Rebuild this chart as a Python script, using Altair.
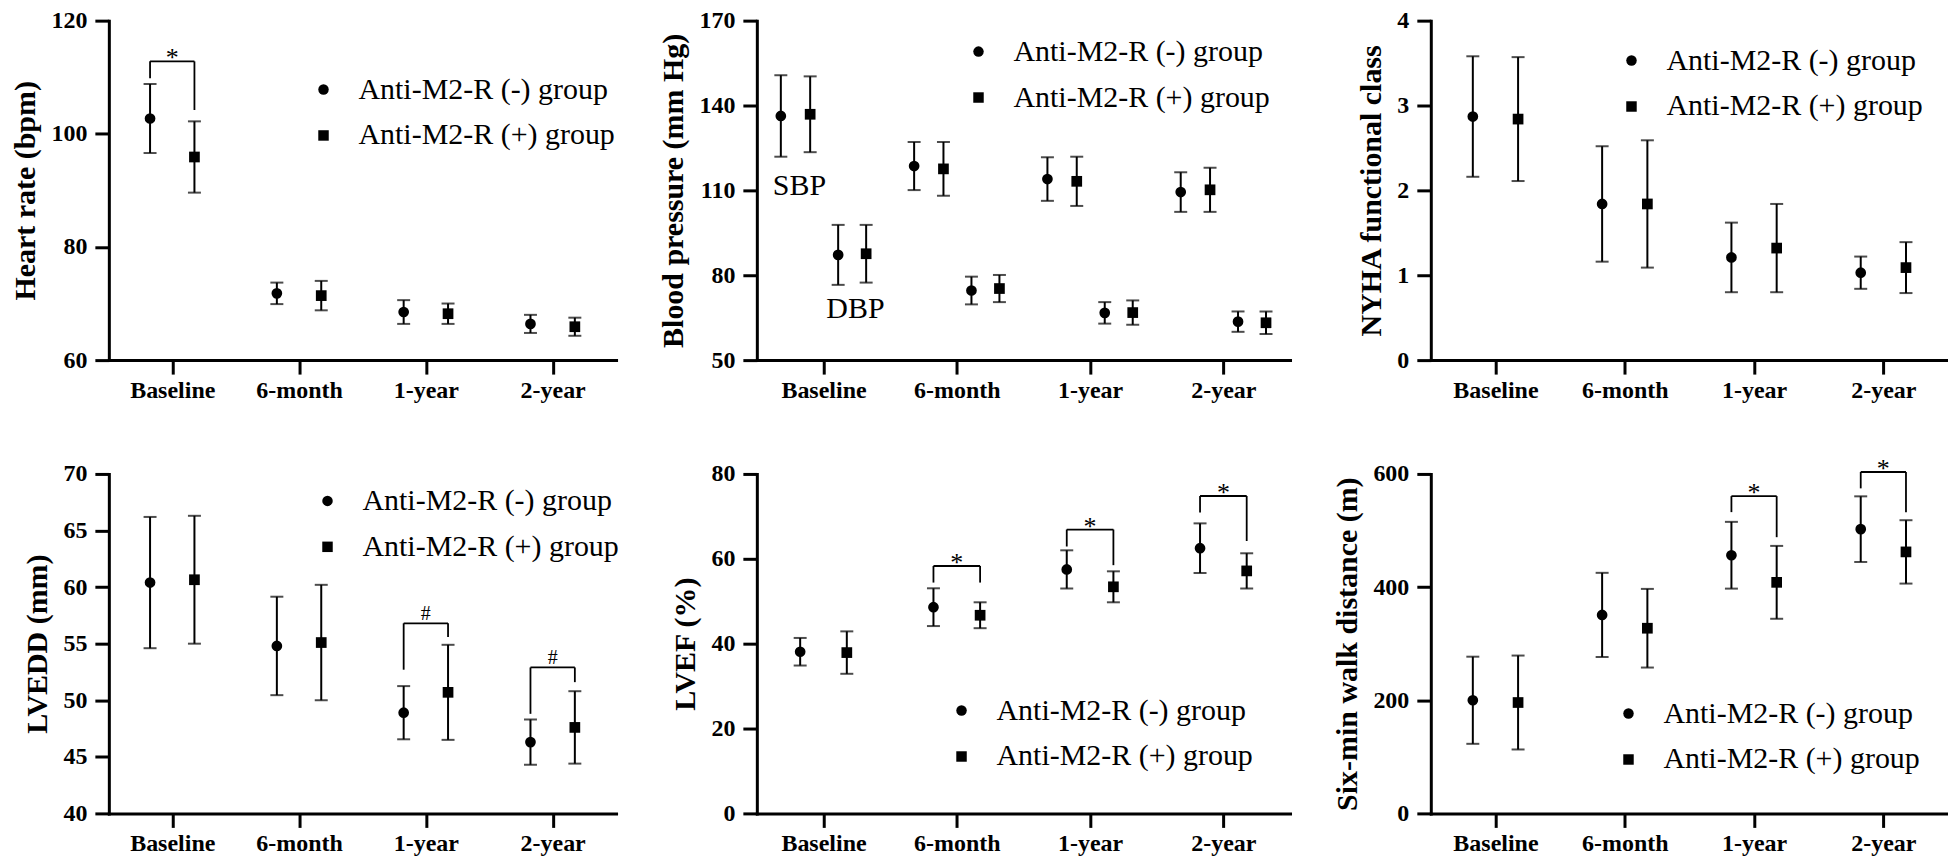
import json
import altair as alt
import pandas as pd

# ---------------- data ----------------
categories = ["Baseline", "6-month", "1-year", "2-year"]
groups = ["Anti-M2-R (-) group", "Anti-M2-R (+) group"]

# Heart rate (bpm)
hr_neg_mean = [102.7, 71.8, 68.5, 66.4]
hr_neg_sd = [6.1, 1.9, 2.1, 1.6]
hr_pos_mean = [95.9, 71.4, 68.2, 65.9]
hr_pos_sd = [6.3, 2.6, 1.8, 1.6]

# Blood pressure (mm Hg)
sbp_neg_mean = [136.3, 118.6, 114.0, 109.4]
sbp_neg_sd = [14.4, 8.5, 7.7, 7.0]
sbp_pos_mean = [136.9, 117.6, 113.2, 110.2]
sbp_pos_sd = [13.4, 9.5, 8.7, 7.8]
dbp_neg_mean = [87.2, 74.6, 66.7, 63.6]
dbp_neg_sd = [10.6, 4.9, 3.8, 3.6]
dbp_pos_mean = [87.6, 75.3, 66.8, 63.2]
dbp_pos_sd = [10.2, 4.8, 4.3, 4.0]
bp_labels = ["SBP", "DBP"]
bp_label_pos = [-0.18, 0.24]
bp_label_val = [111.7, 68.0]

# NYHA functional class
nyha_neg_mean = [2.87, 1.84, 1.21, 1.03]
nyha_neg_sd = [0.71, 0.68, 0.41, 0.19]
nyha_pos_mean = [2.84, 1.84, 1.32, 1.09]
nyha_pos_sd = [0.73, 0.75, 0.52, 0.30]

# LVEDD (mm)
lvedd_neg_mean = [60.4, 54.8, 48.9, 46.3]
lvedd_neg_sd = [5.8, 4.35, 2.35, 2.0]
lvedd_pos_mean = [60.65, 55.1, 50.7, 47.6]
lvedd_pos_sd = [5.65, 5.1, 4.2, 3.2]

# LVEF (%)
lvef_neg_mean = [38.1, 48.6, 57.5, 62.5]
lvef_neg_sd = [3.25, 4.45, 4.5, 5.85]
lvef_pos_mean = [37.9, 46.7, 53.4, 57.15]
lvef_pos_sd = [5.0, 3.05, 3.65, 4.15]

# Six-min walk distance (m)
smwd_neg_mean = [200.0, 350.8, 456.3, 502.4]
smwd_neg_sd = [77.0, 74.4, 59.0, 58.0]
smwd_pos_mean = [196.0, 327.3, 408.4, 462.2]
smwd_pos_sd = [83.0, 69.5, 64.4, 56.0]

# significance brackets: category index, bracket level, left/right leg ends
hr_br_idx = [0]
hr_br_y = [112.8]
hr_br_left = [109.8]
hr_br_right = [104.2]

lvedd_br_idx = [2, 3]
lvedd_br_y = [56.8, 52.9]
lvedd_br_left = [52.7, 48.8]
lvedd_br_right = [55.6, 51.6]

lvef_br_idx = [1, 2, 3]
lvef_br_y = [58.3, 66.9, 74.8]
lvef_br_left = [54.4, 62.9, 70.9]
lvef_br_right = [54.4, 58.5, 64.2]

smwd_br_idx = [2, 3]
smwd_br_y = [560.8, 603.4]
smwd_br_left = [532.5, 574.5]
smwd_br_right = [488.2, 532.5]

# ---------------- styling ----------------
FONT = "Liberation Serif"
OFF = 0.175
H = 340
LABEL_EXPR = json.dumps(categories) + "[datum.value]"


def series_df(series):
    rows = []
    for g, means, sds, off in series:
        for i, (m, s) in enumerate(zip(means, sds)):
            rows.append(dict(group=g, cat=categories[i], x=i + off,
                             mean=m, lo=m - s, hi=m + s))
    return pd.DataFrame(rows)


def bracket_df(idx, ys, left, right, sym):
    return pd.DataFrame(dict(xm=idx, x1=[i - OFF for i in idx], x2=[i + OFF for i in idx],
                             y=ys, lb=left, rb=right, sym=[sym] * len(idx)))


def panel(df, ytitle, ydomain, ystep, width, leg_x, leg_y,
          br=None, sym_dy=0, sym_size=26, extra=None):
    xsc = alt.Scale(domain=[-0.5, 3.5], nice=False, zero=False)
    xax = alt.Axis(values=[0, 1, 2, 3], labelExpr=LABEL_EXPR, title=None,
                   labelPadding=4)
    ysc = alt.Scale(domain=ydomain, nice=False, zero=False)
    vals = []
    v = ydomain[0]
    while v <= ydomain[1] + 1e-9:
        vals.append(v)
        v += ystep
    yax = alt.Axis(values=vals, title=ytitle, labelPadding=8, titlePadding=10)

    def X(f):
        return alt.X(f, type="quantitative", scale=xsc, axis=xax)

    def Y(f):
        return alt.Y(f, type="quantitative", scale=ysc, axis=yax)

    base = alt.Chart(df)
    stems = base.mark_rule(color="black", strokeWidth=2).encode(
        x=X("x"), y=Y("lo"), y2="hi")
    cap_lo = base.mark_tick(orient="horizontal", size=13, thickness=2,
                            color="black").encode(x=X("x"), y=Y("lo"))
    cap_hi = base.mark_tick(orient="horizontal", size=13, thickness=2,
                            color="black").encode(x=X("x"), y=Y("hi"))
    pts = base.mark_point(filled=True, opacity=1, size=115, color="black").encode(
        x=X("x"), y=Y("mean"),
        shape=alt.Shape("group:N",
                        scale=alt.Scale(domain=groups, range=["circle", "square"]),
                        legend=alt.Legend(orient="none", legendX=leg_x, legendY=leg_y,
                                          title=None, padding=0, symbolSize=110,
                                          symbolFillColor="black", symbolStrokeColor="black",
                                          symbolStrokeWidth=0,
                                          labelFont=FONT, labelFontSize=30,
                                          labelColor="black", labelLimit=0,
                                          labelOffset=20, rowPadding=16)))
    layers = [stems, cap_lo, cap_hi, pts]
    if br is not None:
        bb = alt.Chart(br)
        layers += [
            bb.mark_rule(color="black", strokeWidth=1.8).encode(x=X("x1"), x2="x2", y=Y("y")),
            bb.mark_rule(color="black", strokeWidth=1.8).encode(x=X("x1"), y=Y("y"), y2="lb"),
            bb.mark_rule(color="black", strokeWidth=1.8).encode(x=X("x2"), y=Y("y"), y2="rb"),
            bb.mark_text(font=FONT, fontSize=sym_size, color="black", baseline="alphabetic",
                         dy=sym_dy).encode(x=X("xm"), y=Y("y"), text="sym:N"),
        ]
    if extra is not None:
        layers.append(alt.Chart(extra).mark_text(font=FONT, fontSize=30, color="black",
                                                 baseline="middle").encode(
            x=X("x"), y=Y("v"), text="label:N"))
    return alt.layer(*layers).properties(width=width, height=H)


W1, W2, W3 = 508, 534, 518

p1 = panel(series_df([(groups[0], hr_neg_mean, hr_neg_sd, -OFF),
                      (groups[1], hr_pos_mean, hr_pos_sd, OFF)]),
           "Heart rate (bpm)", [60, 120], 20, W1, 200, 54,
           br=bracket_df(hr_br_idx, hr_br_y, hr_br_left, hr_br_right, "*"), sym_dy=5)

bp_df = series_df([(groups[0], sbp_neg_mean, sbp_neg_sd, -0.32),
                   (groups[1], sbp_pos_mean, sbp_pos_sd, -0.10),
                   (groups[0], dbp_neg_mean, dbp_neg_sd, 0.11),
                   (groups[1], dbp_pos_mean, dbp_pos_sd, 0.32)])
bp_extra = pd.DataFrame(dict(label=bp_labels, x=bp_label_pos, v=bp_label_val))
p2 = panel(bp_df, "Blood pressure (mm Hg)", [50, 170], 30, W2, 207, 16, extra=bp_extra)

p3 = panel(series_df([(groups[0], nyha_neg_mean, nyha_neg_sd, -OFF),
                      (groups[1], nyha_pos_mean, nyha_pos_sd, OFF)]),
           "NYHA  functional class", [0, 4], 1, W3, 186, 25)

p4 = panel(series_df([(groups[0], lvedd_neg_mean, lvedd_neg_sd, -OFF),
                      (groups[1], lvedd_pos_mean, lvedd_pos_sd, OFF)]),
           "LVEDD (mm)", [40, 70], 5, W1, 204, 12,
           br=bracket_df(lvedd_br_idx, lvedd_br_y, lvedd_br_left, lvedd_br_right, "#"),
           sym_dy=-3, sym_size=20)

p5 = panel(series_df([(groups[0], lvef_neg_mean, lvef_neg_sd, -OFF),
                      (groups[1], lvef_pos_mean, lvef_pos_sd, OFF)]),
           "LVEF (%)", [0, 80], 20, W2, 190, 222,
           br=bracket_df(lvef_br_idx, lvef_br_y, lvef_br_left, lvef_br_right, "*"), sym_dy=5)

p6 = panel(series_df([(groups[0], smwd_neg_mean, smwd_neg_sd, -OFF),
                      (groups[1], smwd_pos_mean, smwd_pos_sd, OFF)]),
           "Six-min walk distance (m)", [0, 600], 200, W3, 183, 225,
           br=bracket_df(smwd_br_idx, smwd_br_y, smwd_br_left, smwd_br_right, "*"), sym_dy=5)

chart = alt.concat(
    p1, p2, p3, p4, p5, p6, columns=3,
    spacing=alt.RowColnumber(row=114, column=141), bounds="flush"
).resolve_scale(shape="independent").properties(
    padding={"left": 3, "top": 0, "right": 0, "bottom": 0}
).configure_view(
    stroke=None
).configure_axis(
    domainColor="black", domainWidth=3, tickColor="black", tickWidth=3, tickSize=14,
    labelFont=FONT, labelFontWeight="bold", labelFontSize=24, labelColor="black",
    titleFont=FONT, titleFontWeight="bold", titleFontSize=30, titleColor="black",
    grid=False, domainCap="square"
)

chart.save("out.html", embed_options={"renderer": "svg", "actions": False})
